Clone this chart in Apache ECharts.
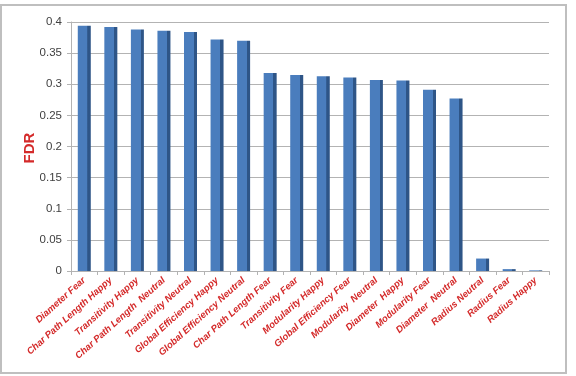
<!DOCTYPE html>
<html><head><meta charset="utf-8">
<script src="https://cdn.jsdelivr.net/npm/echarts@6/dist/echarts.min.js"></script>
<style>html,body{margin:0;padding:0;background:#fff}#c{width:576px;height:376px}</style>
</head><body><div id="c"></div>
<script>
var categories = ["Diameter Fear","Char Path Length Happy","Transitivity Happy","Char Path Length  Neutral","Transitivity Neutral","Global Efficiency Happy","Global Efficiency Neutral","Char Path Length Fear","Transitivity Fear","Modularity Happy","Global Efficiency Fear","Modularity  Neutral","Diameter  Happy","Modularity Fear","Diameter  Neutral","Radius Neutral","Radius Fear","Radius Happy"];
var fdrValues = [0.394,0.392,0.388,0.386,0.384,0.372,0.370,0.318,0.315,0.313,0.311,0.307,0.306,0.291,0.277,0.02,0.003,0.001];
var yTicks = [0,0.05,0.1,0.15,0.2,0.25,0.3,0.35,0.4];
var yTitle = 'FDR';

var chart = echarts.init(document.getElementById('c'));
chart.setOption({
  animation:false,
  graphic:[
    {type:'rect',shape:{x:1,y:5,width:565,height:368},style:{fill:'none',stroke:'#bfbfbf',lineWidth:2}},
    {type:'text',x:30,y:148,rotation:Math.PI/2,style:{text:yTitle,fill:'#d42a2a',font:'bold 15px "Liberation Sans"',textAlign:'center',textVerticalAlign:'middle'}}
  ],
  grid:{left:71,top:22,width:478,height:249},
  xAxis:{type:'category',data:categories,
    axisLine:{lineStyle:{color:'#b3b3b3'}},
    axisTick:{show:true,length:4,lineStyle:{color:'#b3b3b3'}},
    axisLabel:{rotate:42,interval:0,color:'#d42a2a',fontFamily:'Liberation Sans',fontStyle:'italic',fontWeight:'bold',fontSize:9.5,margin:8}},
  yAxis:{type:'value',min:0,max:0.4,interval:0.05,
    axisLine:{show:true,lineStyle:{color:'#b3b3b3'}},
    axisTick:{show:true,length:4,lineStyle:{color:'#b3b3b3'}},
    splitLine:{lineStyle:{color:'#b3b3b3'}},
    axisLabel:{color:'#404040',fontSize:11.5,fontFamily:'Liberation Sans',margin:9,
      formatter:function(v){var i=yTicks.indexOf(+v.toFixed(2));return i>=0?String(yTicks[i]):'';}}},
  series:[{type:'bar',data:fdrValues,barWidth:13,
    itemStyle:{color:{type:'linear',x:0,y:0,x2:1,y2:0,colorStops:[
      {offset:0,color:'#4a7dbd'},{offset:0.74,color:'#4a7dbd'},{offset:0.75,color:'#2e5587'},{offset:1,color:'#2e5587'}]}}}]
});
</script></body></html>
